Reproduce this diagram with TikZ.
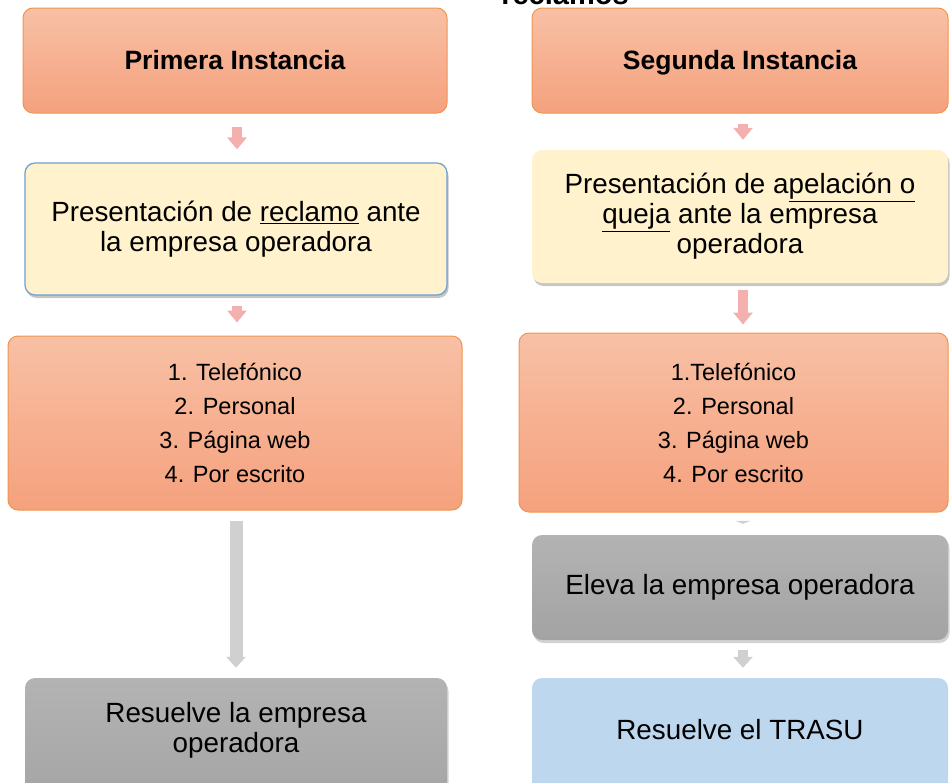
\documentclass[tikz,border=0pt]{standalone}
\usepackage{fontspec}
\setmainfont{Liberation Sans}
\usetikzlibrary{arrows.meta,shadows}
\definecolor{orTop}{HTML}{F8C0A5}
\definecolor{orBot}{HTML}{F5A17D}
\definecolor{orLine}{HTML}{F0954F}
\definecolor{yel}{HTML}{FFF2CC}
\definecolor{yelLine}{HTML}{6A9FD2}
\definecolor{gTop}{HTML}{B3B3B3}
\definecolor{gBot}{HTML}{A3A3A3}
\definecolor{blu}{HTML}{BDD7EE}
\definecolor{pinkA}{HTML}{F3B0AE}
\definecolor{greyA}{HTML}{D0D0D0}
\tikzset{
  basebox/.style={rounded corners=10pt, align=center, inner sep=0pt, anchor=center},
  orangebox/.style={basebox, draw=orLine, line width=1pt, top color=orTop, bottom color=orBot},
  yellowbox/.style={basebox, fill=yel, drop shadow={opacity=0.45, shadow xshift=1.5pt, shadow yshift=-3pt}},
  greybox/.style={basebox, top color=gTop, bottom color=gBot, drop shadow={opacity=0.35, shadow xshift=1.5pt, shadow yshift=-3pt}},
  bluebox/.style={basebox, fill=blu},
  titlefont/.style={font=\fontsize{26.5}{30}\bfseries\selectfont, text height=21pt, text depth=3pt},
  bodyfont/.style={font=\fontsize{27.8}{30}\selectfont},
  listfont/.style={font=\fontsize{23.5}{34}\selectfont},
  plaintext/.style={align=center, inner sep=0pt},
  pinkarrow/.style={draw=pinkA, line width=10pt, -{Triangle[width=19pt,length=12pt]}},
  greyarrow/.style={draw=greyA, line width=13pt, -{Triangle[width=19pt,length=11pt]}},
}
\begin{document}
\begin{tikzpicture}[x=1pt,y=-1pt]
\useasboundingbox (0,0) rectangle (950,782);
\clip (0,0) rectangle (950,782);
% top title (cut off)
\node[anchor=base, font=\fontsize{29}{32}\bfseries\selectfont, inner sep=0pt] (ttl) at (565,4) {reclamos};
% left column
\node[orangebox, titlefont, minimum width=424pt, minimum height=105pt] (p1) at (235,60.5) {Primera Instancia};
\node[yellowbox, draw=yelLine, line width=1.2pt, bodyfont, minimum width=422pt, minimum height=132pt] (y1) at (236,229)
  {Presentación de \underline{reclamo} ante\\la empresa operadora};
\node[orangebox, listfont, minimum width=454pt, minimum height=174pt] (o1) at (235,423)
  {1. Telefónico\\2. Personal\\3. Página web\\4. Por escrito};
\node[greybox, minimum width=422pt, minimum height=140pt] (g1) at (236,748) {};
\node[plaintext, bodyfont] (g1t) at (236,730) {Resuelve la empresa\\operadora};
% right column
\node[orangebox, titlefont, minimum width=416pt, minimum height=105pt] (p2) at (740,60.5) {Segunda Instancia};
\node[yellowbox, bodyfont, minimum width=416pt, minimum height=133pt] (y2) at (740,216.5)
  {Presentación de a\underline{pelación o}\\\underline{queja} ante la empresa\\operadora};
\node[orangebox, listfont, minimum width=429pt, minimum height=179pt] (o2) at (733.5,422.5)
  {1.Telefónico\\2. Personal\\3. Página web\\4. Por escrito};
\node[greybox, bodyfont, minimum width=416pt, minimum height=105pt] (e2) at (740,587.5)
  {Eleva la empresa operadora};
\node[bluebox, minimum width=416pt, minimum height=140pt] (b2) at (740,748) {};
\node[plaintext, bodyfont] (b2t) at (740,730) {Resuelve el TRASU};
% connectors
\draw[pinkarrow, shorten <=13pt, shorten >=13pt] ([xshift=2pt]p1.south) -- ([xshift=1pt]y1.north);
\draw[pinkarrow, shorten <=10pt, shorten >=10pt] ([xshift=3pt]p2.south) -- ([xshift=3pt]y2.north);
\draw[pinkarrow, shorten <=10pt, shorten >=13pt] ([xshift=1pt]y1.south) -- ([xshift=2pt]o1.north);
\draw[pinkarrow, shorten <=7pt, shorten >=8pt] ([xshift=3pt]y2.south) -- ([xshift=9.5pt]o2.north);
\draw[greyarrow, shorten <=10pt, shorten >=10pt] ([xshift=1pt]o1.south) -- ([xshift=0pt]g1.north);
\draw[draw=greyA, line width=9pt, -{Triangle[width=15pt,length=3pt]}, shorten <=8pt, shorten >=11pt] ([xshift=9.5pt]o2.south) -- ([xshift=3pt]e2.north);
\draw[greyarrow, line width=10pt, shorten <=10pt, shorten >=10pt] ([xshift=3pt]e2.south) -- ([xshift=3pt]b2.north);
\end{tikzpicture}
\end{document}
